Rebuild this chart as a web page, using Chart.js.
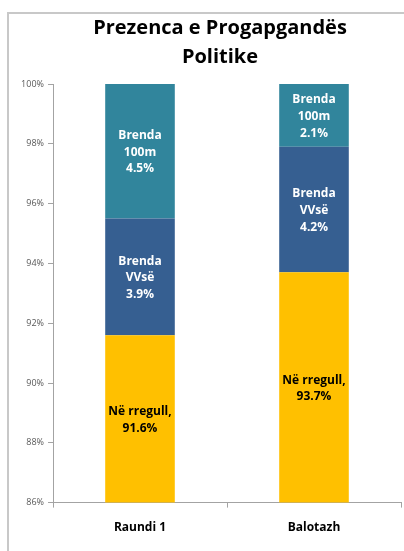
<!DOCTYPE html>
<html lang="sq">
<head>
<meta charset="UTF-8">
<title>Prezenca e Progapgandës Politike</title>
<script src="https://cdn.jsdelivr.net/npm/chart.js@4.4.0/dist/chart.umd.min.js"></script>
<style>
	html, body { margin: 0; padding: 0; width: 404px; height: 551px; overflow: hidden; background: #fff; }
	#frame { position: absolute; left: 7px; top: 12px; width: 460px; height: 600px; border: 2px solid #c8c8c8; }
	#chart { position: absolute; left: 0; top: 0; }
</style>
</head>
<body>
<div id="frame"></div>
<canvas id="chart" width="420" height="551"></canvas>
<script>
	// data
	const categories = ['Raundi 1', 'Balotazh']
	const seriesNames = [['Në rregull,'], ['Brenda', 'VVsë'], ['Brenda', '100m']]
	const neRregull = [91.6, 93.7]
	const brendaVVse = [3.9, 4.2]
	const brenda100m = [4.5, 2.1]
	const yTicks = [86, 88, 90, 92, 94, 96, 98, 100]

	const colors = ['#FFC000', '#365F91', '#31859C']
	const labelColors = ['#000', '#fff', '#fff']
	const axisColor = '#a3a3a3'
	const fontFamily = '"Open Sans", Lato, sans-serif'

	// labels in the middle of each visible bar piece
	const segmentLabels = {
		id: 'segmentLabels',
		afterDatasetsDraw(chart) {
			const ctx = chart.ctx
			const area = chart.chartArea
			ctx.save()
			ctx.font = 'bold 12px ' + fontFamily
			ctx.textAlign = 'center'
			ctx.textBaseline = 'middle'
			chart.data.datasets.forEach((ds, i) => {
				chart.getDatasetMeta(i).data.forEach((bar, j) => {
					const top = Math.max(Math.min(bar.y, bar.base), area.top)
					const bottom = Math.min(Math.max(bar.y, bar.base), area.bottom)
					const lines = seriesNames[i].concat(ds.data[j].toFixed(1) + '%')
					const lh = 16.7
					const y0 = (top + bottom) / 2 - (lines.length - 1) * lh / 2 + 1
					ctx.fillStyle = labelColors[i]
					lines.forEach((t, k) => ctx.fillText(t, bar.x, y0 + k * lh))
				})
			})
			ctx.restore()
		}
	}

	const datasets = [neRregull, brendaVVse, brenda100m].map((d, i) => ({
		label: seriesNames[i].join(' '),
		data: d,
		backgroundColor: colors[i],
		borderWidth: 0,
		barPercentage: 0.4,
		categoryPercentage: 1
	}))

	new Chart(document.getElementById('chart'), {
		type: 'bar',
		data: { labels: categories, datasets: datasets },
		plugins: [segmentLabels],
		options: {
			responsive: false,
			animation: false,
			layout: { padding: { left: 20, right: 0, top: 0, bottom: 3 } },
			plugins: {
				legend: { display: false },
				tooltip: { enabled: false },
				title: {
					display: true,
					text: ['Prezenca e Progapgandës', 'Politike'],
					color: '#000',
					font: { family: fontFamily, size: 20, weight: 'bold', lineHeight: 1.45 },
					padding: { top: 14, bottom: 12 }
				}
			},
			scales: {
				x: {
					stacked: true,
					border: { color: axisColor },
					grid: { drawOnChartArea: false, tickLength: 5, color: axisColor },
					ticks: { color: '#000', padding: 13, font: { family: fontFamily, size: 12, weight: 'bold' } }
				},
				y: {
					stacked: true,
					min: yTicks[0],
					max: yTicks[yTicks.length - 1],
					afterFit: s => { s.width = 33 },
					afterBuildTicks: s => { s.ticks = yTicks.map(v => ({ value: v })) },
					border: { color: axisColor },
					grid: { drawOnChartArea: false, tickLength: 5, color: axisColor },
					ticks: {
						color: '#595959',
						padding: 4,
						font: { family: fontFamily, size: 9 },
						callback: v => v + '%'
					}
				},
				// empty space on the right, the original chart goes on past the crop
				yRight: {
					position: 'right',
					display: true,
					afterFit: s => { s.width = 19 },
					border: { display: false },
					grid: { display: false },
					ticks: { display: false }
				}
			}
		}
	})
</script>
</body>
</html>
